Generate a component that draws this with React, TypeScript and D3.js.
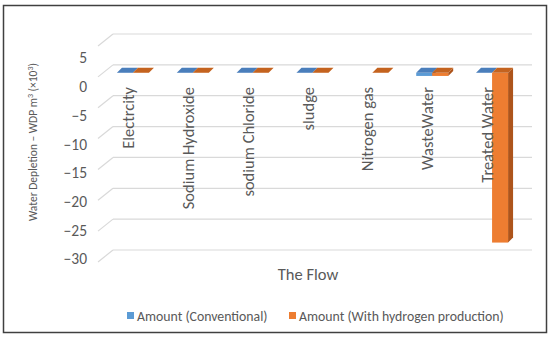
import * as d3 from 'd3';

const categories = ['Electrcity', 'Sodium Hydroxide', 'sodium Chloride', 'sludge', 'Nitrogen gas', 'WasteWater', 'Treated Water'];
const conventional: (number | null)[] = [0.02, 0.02, 0.02, 0.02, null, -0.5, 0.02];
const hydrogen: (number | null)[] = [0.02, 0.02, 0.02, 0.02, 0.02, -0.5, -27.5];
const yTicks = [5, 0, -5, -10, -15, -20, -25, -30];
const seriesNames = ['Amount (Conventional)', 'Amount (With hydrogen production)'];

const W = 550;
const H = 342;
const FONT = "Carlito, Calibri, 'Open Sans', sans-serif";
const colors = [
  { front: '#5B9BD5', top: '#4A7EBB', side: '#3F6E9F' },
  { front: '#ED7D31', top: '#C4631F', side: '#AD541B' },
];

// 3D offsets (depth of the floor and of the columns)
const wallDx = 15;
const wallDy = 12;
const barDx = 5;
const barDy = 5;

export default function App() {
  // back wall scale for gridlines
  const yBack = d3.scaleLinear().domain([-30, 5]).range([250, 34]);
  // label scale (front plane)
  const yLabel = d3.scaleLinear().domain([-30, 5]).range([259, 58]);
  // columns sit in between
  const yBar = (v: number) => yBack(v) + 8;

  const x = d3.scaleBand().domain(categories).range([98, 517]).paddingInner(0).paddingOuter(0);
  const barW = 16;
  const series = [conventional, hydrogen];

  const bars: JSX.Element[] = [];
  series.forEach((vals, si) => {
    vals.forEach((v, i) => {
      if (v === null) return;
      const c = colors[si];
      const cx = (x(categories[i]) || 0) + x.bandwidth() / 2 + 5;
      const x0 = cx - barW + si * barW;
      const x1 = x0 + barW;
      const yTop = Math.min(yBar(0), yBar(v));
      const yBot = Math.max(yBar(0), yBar(v));
      bars.push(
        <g key={`${si}-${i}`}>
          <polygon
            points={`${x1},${yTop} ${x1 + barDx},${yTop - barDy} ${x1 + barDx},${yBot - barDy} ${x1},${yBot}`}
            fill={c.side}
          />
          <rect x={x0} y={yTop} width={barW} height={Math.max(0, yBot - yTop)} fill={c.front} />
          <polygon
            points={`${x0},${yTop} ${x0 + barDx},${yTop - barDy} ${x1 + barDx},${yTop - barDy} ${x1},${yTop}`}
            fill={c.top}
          />
        </g>
      );
    });
  });

  return (
    <svg width={W} height={H} style={{ position: 'absolute', left: 0, top: 0 }} fontFamily={FONT}>
      <rect x={0} y={0} width={W} height={H} fill="#fff" />
      <rect x={3.5} y={5.5} width={543} height={327} fill="#fff" stroke="#404040" strokeWidth={1.5} />

      {/* gridlines on back wall + slanted floor edges */}
      {yTicks.map((t) => (
        <g key={t} stroke="#D9D9D9" strokeWidth={1.2} fill="none">
          <line x1={98 + wallDx} x2={532} y1={yBack(t)} y2={yBack(t)} />
          <line x1={98} y1={yBack(t) + wallDy} x2={98 + wallDx} y2={yBack(t)} />
        </g>
      ))}

      {/* y tick labels */}
      {yTicks.map((t) => (
        <text key={t} x={87} y={yLabel(t)} dy="0.35em" textAnchor="end" fontSize={15.5} fill="#595959">
          {t < 0 ? `\u2212${Math.abs(t)}` : t}
        </text>
      ))}

      {bars}

      {/* category labels */}
      {categories.map((c) => {
        const cx = (x(c) || 0) + x.bandwidth() / 2;
        return (
          <text
            key={c}
            transform={`translate(${cx + 6},87) rotate(-90)`}
            textAnchor="end"
            fontSize={16.5}
            fill="#595959"
          >
            {c}
          </text>
        );
      })}

      <text x={308} y={274} dy="0.35em" textAnchor="middle" fontSize={16.5} fill="#595959">
        The Flow
      </text>

      <text transform="translate(37,142) rotate(-90)" textAnchor="middle" fontSize={11.5} fill="#595959">
        Water Depletion – WDP m<tspan dy="-4" fontSize={8}>3</tspan>
        <tspan dy="4"> (×10</tspan>
        <tspan dy="-4" fontSize={8}>3</tspan>
        <tspan dy="4">)</tspan>
      </text>

      {/* legend */}
      {seriesNames.map((s, i) => {
        const lx = i === 0 ? 127 : 289;
        return (
          <g key={s}>
            <rect x={lx} y={312} width={7} height={7} fill={colors[i].front} />
            <text x={lx + 10} y={316} dy="0.35em" fontSize={13.8} fill="#595959">
              {s}
            </text>
          </g>
        );
      })}
    </svg>
  );
}
